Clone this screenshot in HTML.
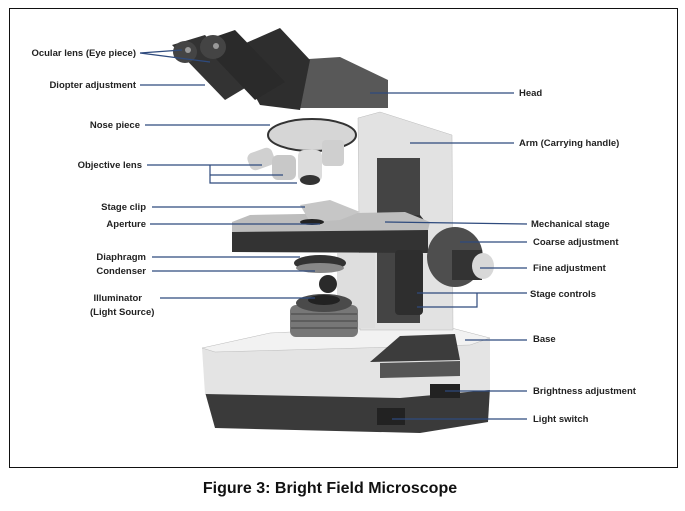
<!DOCTYPE html>
<html><head><style>
body{margin:0;background:#fff;width:685px;height:506px;overflow:hidden}
svg text{font-family:"Liberation Sans",sans-serif;font-weight:bold;font-size:9.5px;fill:#222}
</style></head><body>
<svg width="685" height="506" viewBox="0 0 685 506">
<rect x="9.5" y="8.5" width="668" height="459" fill="#fff" stroke="#111" stroke-width="1"/>
<!-- base -->
<path d="M205 392 L490 388 L488 422 L420 433 L215 428 Z" fill="#3a3a3a"/>
<path d="M202 348 L270 333 L440 325 L490 338 L490 390 L400 398 L205 394 Z" fill="#e4e4e4"/>
<path d="M202 348 L270 333 L440 325 L490 338 L470 345 L215 352 Z" fill="#f2f2f2" stroke="#bbb" stroke-width="0.5"/>
<path d="M370 362 L400 336 L455 334 L460 360 Z" fill="#3c3c3c"/>
<path d="M380 363 L460 361 L460 376 L380 378 Z" fill="#555"/>
<rect x="430" y="384" width="30" height="14" fill="#222"/>
<rect x="377" y="408" width="28" height="17" fill="#222"/>
<!-- arm -->
<path d="M358 118 L380 112 L452 135 L453 330 L360 330 Z" fill="#e2e2e2" stroke="#bbb" stroke-width="0.5"/>
<rect x="377" y="158" width="43" height="165" fill="#444"/>
<rect x="337" y="253" width="38" height="75" fill="#dedede"/>
<!-- head -->
<path d="M293 60 L340 57 L388 80 L388 108 L300 108 Z" fill="#585858"/>
<path d="M230 50 L280 28 L310 60 L300 110 L260 105 Z" fill="#2e2e2e"/>
<path d="M172 45 L205 35 L250 85 L225 100 Z" fill="#333"/>
<path d="M200 42 L235 30 L285 82 L255 100 Z" fill="#2a2a2a"/>
<ellipse cx="185" cy="52" rx="12" ry="11" fill="#444"/>
<ellipse cx="213" cy="47" rx="13" ry="12" fill="#444"/>
<circle cx="188" cy="50" r="3" fill="#999"/><circle cx="216" cy="46" r="3" fill="#999"/>
<!-- nosepiece -->
<ellipse cx="312" cy="135" rx="44" ry="16" fill="#d6d6d6" stroke="#333" stroke-width="2"/>
<rect x="248" y="150" width="26" height="18" rx="6" fill="#d0d0d0" transform="rotate(-20 261 159)"/>
<rect x="272" y="155" width="24" height="25" rx="6" fill="#c8c8c8"/>
<rect x="298" y="150" width="24" height="32" rx="6" fill="#dcdcdc"/>
<ellipse cx="310" cy="180" rx="10" ry="5" fill="#333"/>
<rect x="322" y="140" width="22" height="26" rx="4" fill="#cfcfcf"/>
<!-- stage -->
<path d="M232 222 L420 215 L428 225 L428 253 L232 252 Z" fill="#333"/>
<path d="M232 222 L250 215 L405 212 L430 222 L428 230 L232 232 Z" fill="#bdbdbd"/>
<path d="M300 205 L330 200 L360 212 L340 220 L310 222 Z" fill="#c6c6c6"/>
<ellipse cx="312" cy="222" rx="12" ry="3" fill="#222"/>
<ellipse cx="320" cy="263" rx="26" ry="8" fill="#333"/>
<ellipse cx="320" cy="268" rx="24" ry="5" fill="#888"/>
<!-- illuminator -->
<rect x="290" y="305" width="68" height="32" rx="6" fill="#777"/>
<g stroke="#555" stroke-width="1.5"><line x1="291" y1="314" x2="357" y2="314"/><line x1="291" y1="321" x2="357" y2="321"/><line x1="291" y1="328" x2="357" y2="328"/></g>
<ellipse cx="324" cy="303" rx="28" ry="9" fill="#4a4a4a"/>
<ellipse cx="324" cy="300" rx="16" ry="5" fill="#222"/>
<circle cx="328" cy="284" r="9" fill="#2a2a2a"/>
<!-- knobs -->
<rect x="395" y="250" width="28" height="65" rx="4" fill="#2e2e2e"/>
<ellipse cx="455" cy="257" rx="28" ry="30" fill="#4e4e4e"/>
<rect x="452" y="250" width="30" height="30" fill="#333"/>
<ellipse cx="483" cy="266" rx="11" ry="13" fill="#d8d8d8"/>
<!-- leader lines -->
<g stroke="#2e4a7d" stroke-width="1.2" fill="none">
<path d="M140 53 L182 50 M140 53 L210 62"/>
<path d="M140 85 L205 85"/>
<path d="M145 125 L270 125"/>
<path d="M147 165 L262 165 M210 165 L210 183 L297 183 M210 175 L283 175"/>
<path d="M152 207 L305 207"/>
<path d="M150 224 L320 224"/>
<path d="M152 257 L300 257"/>
<path d="M152 271 L315 271"/>
<path d="M160 298 L315 298"/>
<path d="M370 93 L514 93"/>
<path d="M410 143 L514 143"/>
<path d="M385 222 L527 224"/>
<path d="M460 242 L527 242"/>
<path d="M480 268 L527 268"/>
<path d="M417 293 L527 293 M477 293 L477 307 L417 307"/>
<path d="M465 340 L527 340"/>
<path d="M445 391 L527 391"/>
<path d="M392 419 L527 419"/>
</g>
<g text-anchor="end">
<text x="136" y="56">Ocular lens (Eye piece)</text>
<text x="136" y="88">Diopter adjustment</text>
<text x="140" y="128">Nose piece</text>
<text x="142" y="168">Objective lens</text>
<text x="146" y="210">Stage clip</text>
<text x="146" y="227">Aperture</text>
<text x="146" y="260">Diaphragm</text>
<text x="146" y="274">Condenser</text>
<text x="142" y="301">Illuminator</text>
</g>
<text x="90" y="315">(Light Source)</text>
<text x="519" y="96">Head</text>
<text x="519" y="146">Arm (Carrying handle)</text>
<text x="531" y="227">Mechanical stage</text>
<text x="533" y="245">Coarse adjustment</text>
<text x="533" y="271">Fine adjustment</text>
<text x="530" y="297">Stage controls</text>
<text x="533" y="342">Base</text>
<text x="533" y="394">Brightness adjustment</text>
<text x="533" y="422">Light switch</text>
<text x="330" y="493" text-anchor="middle" style="font-size:16px;fill:#111">Figure 3: Bright Field Microscope</text>
</svg>
</body></html>
